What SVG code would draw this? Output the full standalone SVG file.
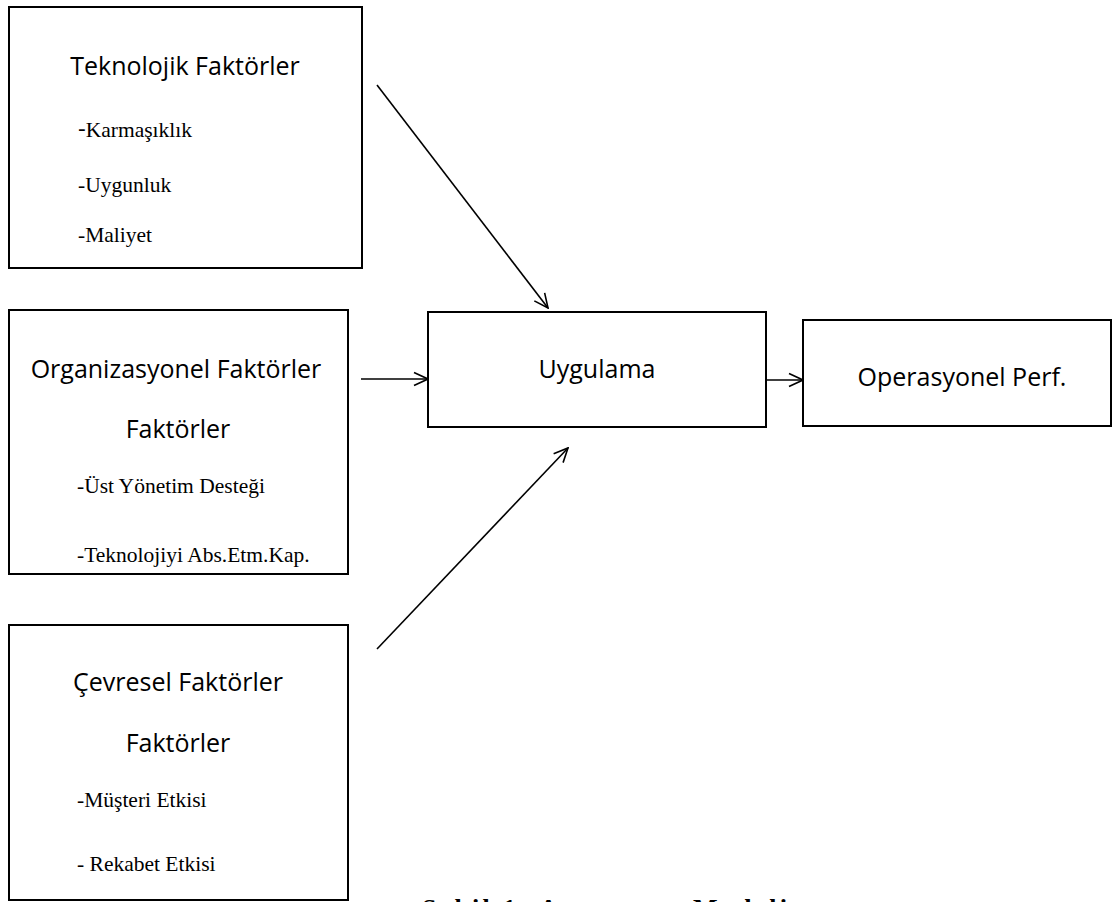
<svg xmlns="http://www.w3.org/2000/svg" width="1119" height="902" viewBox="0 0 1119 902">
<defs>
<style>
.box{fill:#fff;stroke:#000;stroke-width:2}
.t{font-family:"Open Sans","Noto Sans","Liberation Sans",sans-serif;font-size:25px;fill:#000;text-anchor:middle}
.s{font-family:"Liberation Serif","Times New Roman",serif;font-size:21.5px;fill:#000}
.c{fill:none;stroke:#000;stroke-width:1.6}
.cap{font-family:"Liberation Serif","Times New Roman",serif;font-size:26px;font-weight:bold;fill:#000}
</style>
<marker id="ah" viewBox="0 0 16 16" refX="15" refY="8" markerWidth="16" markerHeight="16" markerUnits="userSpaceOnUse" orient="auto">
<path d="M1,1.5 L15,8 L1,14.5" fill="none" stroke="#000" stroke-width="1.6"/>
</marker>
</defs>
<rect width="1119" height="902" fill="#fff"/>
<g id="teknolojik">
<rect class="box" x="9" y="7" width="353" height="261"/>
<text class="t" x="185" y="75">Teknolojik Faktörler</text>
<text class="s" x="78" y="137"><tspan font-family="Open Sans, sans-serif" font-size="24">-</tspan>Karmaşıklık</text>
<text class="s" x="78" y="192">-Uygunluk</text>
<text class="s" x="78" y="242">-Maliyet</text>
</g>
<g id="organizasyonel">
<rect class="box" x="9" y="310" width="339" height="264"/>
<text class="t" x="176" y="378">Organizasyonel Faktörler</text>
<text class="t" x="178" y="438">Faktörler</text>
<text class="s" x="77" y="493">-Üst Yönetim Desteği</text>
<text class="s" x="77" y="562">-Teknolojiyi Abs.Etm.Kap.</text>
</g>
<g id="cevresel">
<rect class="box" x="9" y="625" width="339" height="275"/>
<text class="t" x="178" y="691">Çevresel Faktörler</text>
<text class="t" x="178" y="752">Faktörler</text>
<text class="s" x="77" y="807">-Müşteri Etkisi</text>
<text class="s" x="77" y="871">- Rekabet Etkisi</text>
</g>
<g id="uygulama">
<rect class="box" x="428" y="312" width="338" height="115"/>
<text class="t" x="597" y="378">Uygulama</text>
</g>
<g id="operasyonel">
<rect class="box" x="803" y="320" width="308" height="106"/>
<text class="t" x="962" y="386">Operasyonel Perf.</text>
</g>
<g id="connectors">
<line class="c" x1="377" y1="85" x2="548" y2="308" marker-end="url(#ah)"/>
<line class="c" x1="361" y1="379" x2="428" y2="379" marker-end="url(#ah)"/>
<line class="c" x1="377" y1="649" x2="568" y2="448" marker-end="url(#ah)"/>
<line class="c" x1="766" y1="380" x2="803" y2="380" marker-end="url(#ah)"/>
</g>
<text class="cap" x="422" y="917" textLength="365" lengthAdjust="spacing">Şekil 1: Araştırma Modeli</text>
</svg>
